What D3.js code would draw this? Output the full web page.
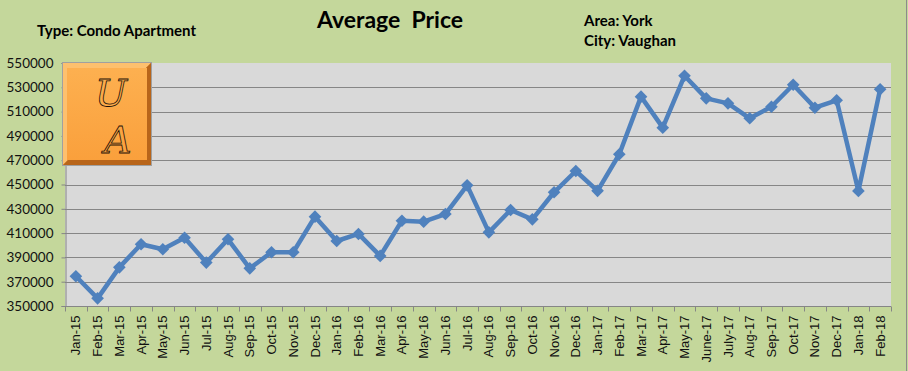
<!DOCTYPE html>
<html>
<head>
<meta charset="utf-8">
<script src="https://cdn.jsdelivr.net/npm/d3@7"></script>
<style>
  body { margin: 0; background: #fff; }
  svg { display: block; }
</style>
</head>
<body>
<svg id="chart"></svg>
<script>
// months on the x axis
const months = ["Jan-15", "Feb-15", "Mar-15", "Apr-15", "May-15", "Jun-15", "Jul-15", "Aug-15", "Sep-15", "Oct-15", "Nov-15", "Dec-15",
    "Jan-16", "Feb-16", "Mar-16", "Apr-16", "May-16", "Jun-16", "Jul-16", "Aug-16", "Sep-16", "Oct-16", "Nov-16", "Dec-16",
    "Jan-17", "Feb-17", "Mar-17", "Apr-17", "May-17", "June-17", "July-17", "Aug-17", "Sep-17", "Oct-17", "Nov-17", "Dec-17",
    "Jan-18", "Feb-18"];

// average price per month
const avgPrice = [374500, 356300, 381800, 400800, 396700, 406200, 385700, 404900, 381000, 394200, 394200, 423500,
    403500, 409300, 391200, 420200, 419400, 425700, 449300, 410600, 429000, 421300, 443600, 461100,
    444800, 474900, 522300, 496800, 539500, 520900, 516800, 504500, 514000, 532100, 513200, 519300,
    444700, 528400];

const yTicks = [350000, 370000, 390000, 410000, 430000, 450000, 470000, 490000, 510000, 530000, 550000];

const width = 908;
const height = 371;
const plot = { left: 65, right: 891, top: 63, bottom: 306 };

const svg = d3.select("#chart")
    .attr("width", width)
    .attr("height", height);

// chart background
svg.append("rect")
    .attr("width", width)
    .attr("height", height)
    .attr("fill", "#c4d79b");
svg.append("line")
    .attr("x1", 906.5).attr("x2", 906.5)
    .attr("y1", 0).attr("y2", height)
    .attr("stroke", "#8c8c8c");

const x = d3.scaleBand()
    .domain(months)
    .range([plot.left, plot.right])
    .padding(0);

const y = d3.scaleLinear()
    .domain([350000, 550000])
    .range([plot.bottom, plot.top]);

// plot area
svg.append("rect")
    .attr("x", plot.left)
    .attr("y", plot.top)
    .attr("width", plot.right - plot.left)
    .attr("height", plot.bottom - plot.top)
    .attr("fill", "#d9d9d9");

// horizontal gridlines
svg.append("g")
    .selectAll("line")
    .data(yTicks.slice(1, -1))
    .join("line")
    .attr("x1", plot.left)
    .attr("x2", plot.right)
    .attr("y1", d => Math.round(y(d)) + 0.5)
    .attr("y2", d => Math.round(y(d)) + 0.5)
    .attr("stroke", "#868686")
    .attr("stroke-width", 1);

// y axis
const yAxis = svg.append("g")
    .attr("transform", `translate(${plot.left + 0.5},0)`)
    .call(d3.axisLeft(y).tickValues(yTicks).tickSize(4).tickPadding(8).tickFormat(d3.format("d")));
yAxis.select(".domain").attr("stroke", "#868686");
yAxis.selectAll(".tick line").attr("stroke", "#868686");
yAxis.selectAll("text")
    .attr("font-family", "Lato, 'Open Sans', sans-serif")
    .attr("font-size", "13.5px")
    .attr("fill", "#111");

// x axis: ticks between categories
const xAxis = svg.append("g")
    .attr("transform", `translate(0,${plot.bottom + 0.5})`);
xAxis.append("line")
    .attr("x1", plot.left).attr("x2", plot.right)
    .attr("stroke", "#868686");
const bounds = months.map(m => x(m)).concat([x(months[months.length - 1]) + x.bandwidth()]);
xAxis.selectAll(".xtick")
    .data(bounds)
    .join("line")
    .attr("class", "xtick")
    .attr("x1", d => Math.round(d) + 0.5)
    .attr("x2", d => Math.round(d) + 0.5)
    .attr("y1", 0)
    .attr("y2", 5)
    .attr("stroke", "#868686");
xAxis.selectAll("text")
    .data(months)
    .join("text")
    .attr("transform", d => `translate(${x(d) + x.bandwidth() / 2},9) rotate(-90)`)
    .attr("dy", "0.35em")
    .attr("text-anchor", "end")
    .attr("font-family", "'Liberation Sans', Arial, sans-serif")
    .attr("font-size", "13px")
    .attr("fill", "#111")
    .text(d => d);

// price line
const line = d3.line()
    .x((d, i) => x(months[i]) + x.bandwidth() / 2)
    .y(d => y(d));

svg.append("path")
    .datum(avgPrice)
    .attr("d", line)
    .attr("fill", "none")
    .attr("stroke", "#4f81bd")
    .attr("stroke-width", 4.5)
    .attr("stroke-linejoin", "round");

svg.append("g")
    .selectAll("path")
    .data(avgPrice)
    .join("path")
    .attr("d", d3.symbol(d3.symbolSquare, 80))
    .attr("transform", (d, i) => `translate(${x(months[i]) + x.bandwidth() / 2},${y(d)}) rotate(45)`)
    .attr("fill", "#4f81bd");

// logo box
const defs = svg.append("defs");
const grad = defs.append("linearGradient")
    .attr("id", "orange")
    .attr("x1", 0).attr("y1", 0).attr("x2", 0).attr("y2", 1);
grad.append("stop").attr("offset", "0%").attr("stop-color", "#fdb050");
grad.append("stop").attr("offset", "100%").attr("stop-color", "#faa03c");

const logo = svg.append("g").attr("transform", "translate(62,62)");
logo.append("rect")
    .attr("width", 90).attr("height", 104)
    .attr("fill", "#a0a0a0");
logo.append("rect")
    .attr("x", 1).attr("y", 1)
    .attr("width", 88).attr("height", 102)
    .attr("fill", "#c8721e");
logo.append("path")
    .attr("d", "M1,1 H89 L84,6 H6 V98 L1,103 Z")
    .attr("fill", "#fdc06e");
logo.append("path")
    .attr("d", "M89,1 V103 H1 L6,98 H84 V6 Z")
    .attr("fill", "#b8651a");
logo.append("rect")
    .attr("x", 5).attr("y", 6)
    .attr("width", 80).attr("height", 92)
    .attr("fill", "url(#orange)");

logo.selectAll("text")
    .data([{ t: "U", x: 49, y: 44 }, { t: "A", x: 56, y: 91 }])
    .join("text")
    .attr("x", d => d.x)
    .attr("y", d => d.y)
    .attr("text-anchor", "middle")
    .attr("font-family", "'DejaVu Serif', serif")
    .attr("font-style", "italic")
    .attr("font-size", "38px")
    .attr("fill", "none")
    .attr("stroke", "#1a1008")
    .attr("stroke-width", 0.8)
    .text(d => d.t);

// titles
svg.append("text")
    .attr("x", 390)
    .attr("y", 28)
    .attr("text-anchor", "middle")
    .attr("font-family", "Lato, 'Open Sans', sans-serif")
    .attr("font-weight", "bold")
    .attr("font-size", "23px")
    .attr("fill", "#000")
    .attr("xml:space", "preserve")
    .text("Average  Price");

const labels = [
    { t: "Type: Condo Apartment", x: 37, y: 36 },
    { t: "Area: York", x: 584, y: 26 },
    { t: "City: Vaughan", x: 584, y: 46 }
];
svg.append("g")
    .selectAll("text")
    .data(labels)
    .join("text")
    .attr("x", d => d.x)
    .attr("y", d => d.y)
    .attr("font-family", "Lato, 'Open Sans', sans-serif")
    .attr("font-weight", "bold")
    .attr("font-size", "15px")
    .attr("fill", "#000")
    .text(d => d.t);
</script>
</body>
</html>
